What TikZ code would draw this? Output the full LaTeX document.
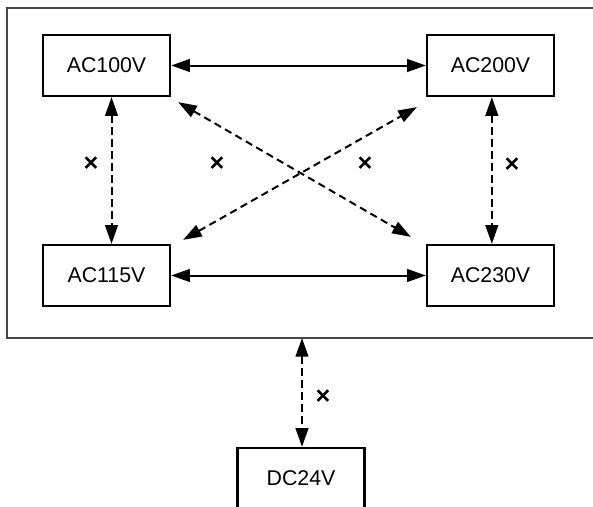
\documentclass[tikz,border=0pt]{standalone}
\usepackage{fontspec}
\setmainfont{Liberation Sans}
\usetikzlibrary{arrows.meta,positioning}
\definecolor{frameGray}{RGB}{70,70,70}

\begin{document}
\begin{tikzpicture}[x=0.75pt,y=-0.75pt,
    volt/.style={draw,line width=1.7pt,minimum width=95.25pt,minimum height=45.75pt,
                 inner sep=0pt,font=\fontsize{16}{19}\selectfont},
    okline/.style={{Triangle[length=14pt,width=9.5pt]}-{Triangle[length=14pt,width=9.5pt]},line width=1.5pt},
    ngline/.style={okline,dash pattern=on 5.5pt off 3.5pt},
    ngmark/.style={font=\bfseries\fontsize{19}{22}\selectfont,inner sep=0pt}]

    \useasboundingbox (0,0) rectangle (593,507);

    % ─── Rahmen ───────────────────────────────────────────
    \draw[frameGray,line width=1pt] (7,8) rectangle (610,338);

    % ─── Spannungsklassen ─────────────────────────────────
    \node[volt] (ac100) at (106.5,65.5) {AC100V};
    \node[volt] (ac200) at (490.5,65.5) {AC200V};
    \node[volt] (ac115) at (106.5,275.5) {AC115V};
    \node[volt] (ac230) at (490.5,275.5) {AC230V};
    \node[volt] (dc24)  at (301,478.5) {DC24V};
    \coordinate (frame) at (302,338);

    % erlaubt
    \draw[okline] (ac100.east) -- (ac200.west);
    \draw[okline] (ac115.east) -- (ac230.west);

    % nicht erlaubt
    \draw[ngline] ([xshift=3.75pt]ac100.south) -- ([xshift=3.75pt]ac115.north);
    \draw[ngline] ([xshift=1pt]ac200.south) -- ([xshift=1pt]ac230.north);
    \draw[ngline] ([shift={(7,5)}]ac100.south east) -- ([shift={(-15,-7)}]ac230.north west);
    \draw[ngline] ([shift={(12,-4)}]ac115.north east) -- ([shift={(-9,10)}]ac200.south west);
    \draw[ngline] (frame) -- (frame |- dc24.north);

    \node[ngmark] (x1) at (91,164)  {×};
    \node[ngmark] (x2) at (217,164) {×};
    \node[ngmark] (x3) at (365,164) {×};
    \node[ngmark] (x4) at (512,165) {×};
    \node[ngmark] (x5) at (323,397) {×};

\end{tikzpicture}
\end{document}
